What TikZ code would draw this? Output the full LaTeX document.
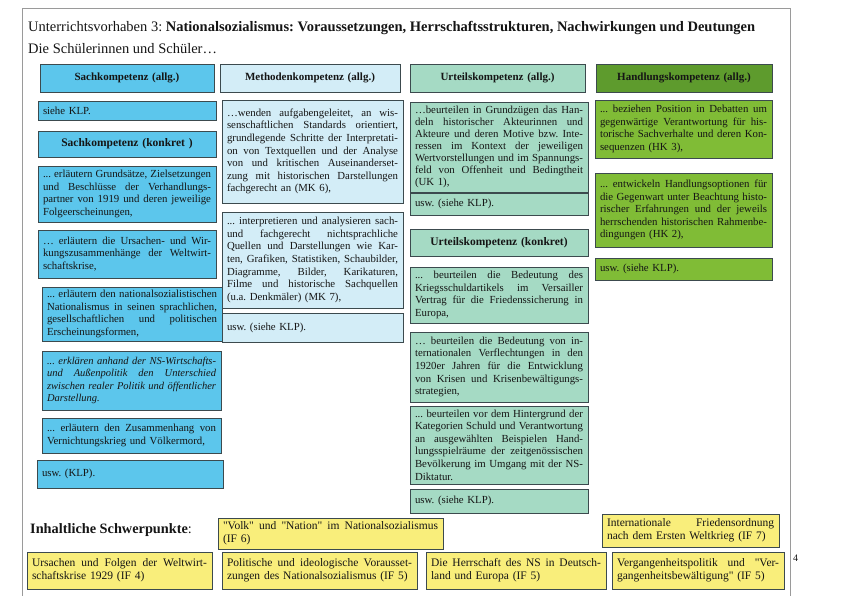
\documentclass[tikz,border=0pt]{standalone}
\usepackage{fontspec}
\setmainfont{Liberation Serif}
\frenchspacing
\definecolor{sachc}{HTML}{5CC6EC}
\definecolor{methc}{HTML}{D3EDF7}
\definecolor{urtc}{HTML}{A5DAC4}
\definecolor{handh}{HTML}{5E9B2D}
\definecolor{handc}{HTML}{80BC36}
\definecolor{yelc}{HTML}{F9EE7B}
\definecolor{bordc}{HTML}{3C4A4E}
\definecolor{txtc}{HTML}{151515}
\definecolor{framec}{HTML}{9A9A9A}
\newcommand\J[1]{\makebox[\linewidth][s]{\spaceskip=0pt\xspaceskip=0pt\relax #1}\\}
\newcommand\qd{\textquotedbl}
\newcommand\cbox[7]{%
  \pgfmathsetmacro\bw{#4-#2}\pgfmathsetmacro\bh{#5-#3}\pgfmathsetmacro\tw{#4-#2-10}%
  \pgfmathsetmacro\cx{(#2+#4)/2}\pgfmathsetmacro\cy{(#3+#5)/2}%
  \node[#6, minimum width=\bw pt, minimum height=\bh pt, text width=\tw pt] (#1) at (\cx,\cy) {#7};}
\tikzset{
  box/.style={draw=bordc, line width=0.8pt, inner xsep=5pt, inner ysep=1pt, align=left,
    font=\fontsize{10.8}{12.6}\selectfont, text=txtc},
  head/.style={box, align=center, font=\bfseries\fontsize{11}{12}\selectfont},
  headk/.style={box, align=center, font=\bfseries\fontsize{11.5}{14}\selectfont},
  sach/.style={box, fill=sachc},
  meth/.style={box, fill=methc},
  urt/.style={box, fill=urtc},
  hand/.style={box, fill=handc},
  ybox/.style={box, fill=yelc, font=\fontsize{11.5}{12.8}\selectfont},
  plain/.style={anchor=base west, inner sep=0pt, text=txtc},
}
\begin{document}
\begin{tikzpicture}[x=1pt,y=-1pt]
\useasboundingbox[fill=white] (0,0) rectangle (850,596);
% frame
\coordinate (f1) at (22,596);
\coordinate (f2) at (22,8);
\coordinate (f3) at (790,8);
\coordinate (f4) at (790,596);
\draw[framec, line width=0.8pt] (f1) -- (f2) -- (f3) -- (f4);
% titles
\node[plain, font=\fontsize{14.5}{16}\selectfont] (title) at (28,32)
  {Unterrichtsvorhaben 3: \textbf{Nationalsozialismus: Voraussetzungen, Herrschaftsstrukturen, Nachwirkungen und Deutungen}};
\node[plain, font=\fontsize{14.5}{16}\selectfont] (sub) at (28,54) {Die Schülerinnen und Schüler…};
% header row
\cbox{hs}{40}{64}{214}{92}{head, fill=sachc}{Sachkompetenz (allg.)}
\cbox{hm}{220}{64}{400}{92}{head, fill=methc}{Methodenkompetenz (allg.)}
\cbox{hu}{410}{64}{585}{92}{head, fill=urtc}{Urteilskompetenz (allg.)}
\cbox{hh}{596}{64}{772}{92}{head, fill=handh}{Handlungskompetenz (allg.)}
% column 1
\cbox{s0}{38}{101}{216}{120}{sach}{siehe KLP.}
\cbox{s1}{38}{131}{216}{157}{headk, fill=sachc}{Sachkompetenz (konkret )}
\cbox{s2}{38}{166}{216}{222}{sach}{\J{... erläutern Grundsätze, Zielsetzungen}\J{und Beschlüsse der Verhandlungs-}\J{partner von 1919 und deren jeweilige}Folgeerscheinungen,}
\cbox{s3}{38}{230}{216}{278}{sach}{\J{… erläutern die Ursachen- und Wir-}\J{kungszusammenhänge der Weltwirt-}schaftskrise,}
\cbox{s4}{42}{287}{222}{341}{sach}{\J{... erläutern den nationalsozialistischen}\J{Nationalismus in seinen sprachlichen,}\J{gesellschaftlichen und politischen}Erscheinungsformen,}
\cbox{s5}{42}{351}{221}{410}{sach, font=\itshape\fontsize{10.5}{12.6}\selectfont}{\J{... erklären anhand der NS-Wirtschafts-}\J{und Außenpolitik den Unterschied}\J{zwischen realer Politik und öffentlicher}Darstellung.}
\cbox{s6}{42}{418}{221}{453}{sach}{\J{... erläutern den Zusammenhang von}Vernichtungskrieg und Völkermord,}
\cbox{s7}{37}{460}{223}{488}{sach}{usw. (KLP).}
% column 2
\cbox{m1}{222}{100}{403}{203}{meth}{\J{…wenden aufgabengeleitet, an wis-}\J{senschaftlichen Standards orientiert,}\J{grundlegende Schritte der Interpretati-}\J{on von Textquellen und der Analyse}\J{von und kritischen Auseinanderset-}\J{zung mit historischen Darstellungen}fachgerecht an (MK 6),}
\cbox{m2}{222}{212}{403}{308}{meth}{\J{... interpretieren und analysieren sach-}\J{und fachgerecht nichtsprachliche}\J{Quellen und Darstellungen wie Kar-}\J{ten, Grafiken, Statistiken, Schaubilder,}\J{Diagramme, Bilder, Karikaturen,}\J{Filme und historische Sachquellen}(u.a. Denkmäler) (MK 7),}
\cbox{m3}{222}{313}{403}{342}{meth}{usw. (siehe KLP).}
% column 3
\cbox{u1}{410}{102}{588}{192}{urt, font=\fontsize{10.8}{12.1}\selectfont}{\J{…beurteilen in Grundzügen das Han-}\J{deln historischer Akteurinnen und}\J{Akteure und deren Motive bzw. Inte-}\J{ressen im Kontext der jeweiligen}\J{Wertvorstellungen und im Spannungs-}\J{feld von Offenheit und Bedingtheit}(UK 1),}
\cbox{u2}{410}{193}{588}{215}{urt}{usw. (siehe KLP).}
\cbox{u3}{410}{229}{588}{256}{headk, fill=urtc}{Urteilskompetenz (konkret)}
\cbox{u4}{410}{267}{588}{323}{urt}{\J{... beurteilen die Bedeutung des}\J{Kriegsschuldartikels im Versailler}\J{Vertrag für die Friedenssicherung in}Europa,}
\cbox{u5}{410}{332}{588}{402}{urt}{\J{… beurteilen die Bedeutung von in-}\J{ternationalen Verflechtungen in den}\J{1920er Jahren für die Entwicklung}\J{von Krisen und Krisenbewältigungs-}strategien,}
\cbox{u6}{410}{406}{588}{484}{urt}{\J{... beurteilen vor dem Hintergrund der}\J{Kategorien Schuld und Verantwortung}\J{an ausgewählten Beispielen Hand-}\J{lungsspielräume der zeitgenössischen}\J{Bevölkerung im Umgang mit der NS-}Diktatur.}
\cbox{u7}{410}{489}{588}{513}{urt}{usw. (siehe KLP).}
% column 4
\cbox{h1}{595}{100}{772}{158}{hand}{\J{... beziehen Position in Debatten um}\J{gegenwärtige Verantwortung für his-}\J{torische Sachverhalte und deren Kon-}sequenzen (HK 3),}
\cbox{h2}{595}{173}{772}{247}{hand}{\J{... entwickeln Handlungsoptionen für}\J{die Gegenwart unter Beachtung histo-}\J{rischer Erfahrungen und der jeweils}\J{herrschenden historischen Rahmenbe-}dingungen (HK 2),}
\cbox{h3}{595}{258}{772}{280}{hand}{usw. (siehe KLP).}
% bottom
\node[plain, font=\fontsize{14.3}{16}\selectfont] (inh) at (30,533) {\textbf{Inhaltliche Schwerpunkte}:};
\cbox{y1}{218}{518}{443}{549}{ybox}{\J{\qd Volk\qd{} und \qd Nation\qd{} im Nationalsozialismus}(IF 6)}
\cbox{y2}{602}{514}{779}{547}{ybox}{\J{Internationale Friedensordnung}nach dem Ersten Weltkrieg (IF 7)}
\cbox{y3}{27}{552}{212}{589}{ybox}{\J{Ursachen und Folgen der Weltwirt-}schaftskrise 1929 (IF 4)}
\cbox{y4}{222}{552}{417}{589}{ybox}{\J{Politische und ideologische Vorausset-}zungen des Nationalsozialismus (IF 5)}
\cbox{y5}{426}{552}{606}{589}{ybox}{\J{Die Herrschaft des NS in Deutsch-}land und Europa (IF 5)}
\cbox{y6}{612}{552}{784}{589}{ybox}{\J{Vergangenheitspolitik und \qd Ver-}gangenheitsbewältigung\qd{} (IF 5)}
\node[plain, font=\fontsize{10}{12}\selectfont] (pg) at (793,561) {4};
\end{tikzpicture}
\end{document}
